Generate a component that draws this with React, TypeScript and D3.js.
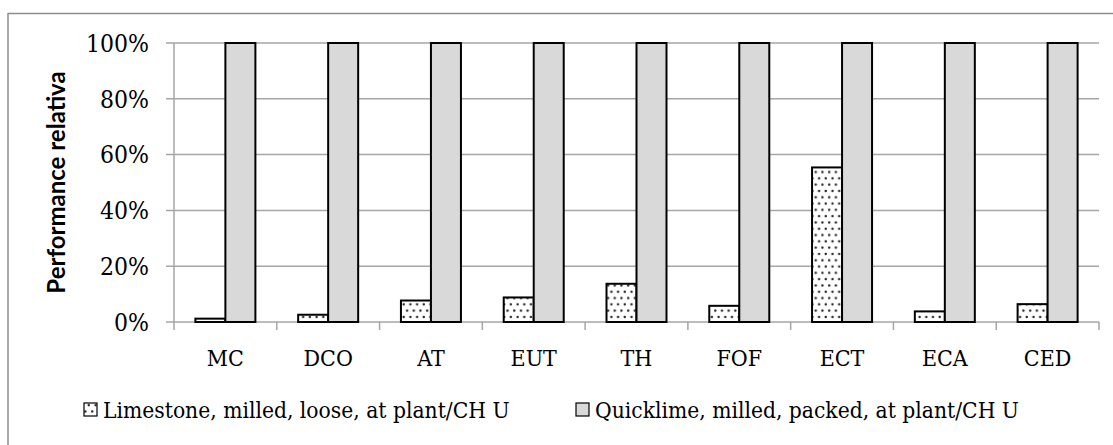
import React from "react";
import * as d3 from "d3";

const categories = ["MC", "DCO", "AT", "EUT", "TH", "FOF", "ECT", "ECA", "CED"];
const limestone = [1.2, 2.6, 7.7, 8.8, 13.7, 5.8, 55.4, 3.8, 6.4];
const quicklime = [100, 100, 100, 100, 100, 100, 100, 100, 100];
const seriesNames = ["Limestone, milled, loose, at plant/CH U", "Quicklime, milled, packed, at plant/CH U"];
const yTicks = [0, 20, 40, 60, 80, 100];
const yTitle = "Performance relativa";

const W = 1113, H = 445;
const left = 174, right = 1099, top = 43, bottom = 322;
const serif = "'DejaVu Serif Condensed', 'DejaVu Serif', serif";

export default function App() {
  const x = d3.scaleBand<string>().domain(categories).range([left, right]).paddingInner(0).paddingOuter(0);
  const y = d3.scaleLinear().domain([0, 100]).range([bottom, top]);
  const bw = 30;
  const band = x.bandwidth();
  return (
    <svg width={W} height={H} style={{ position: "absolute", left: 0, top: 0, background: "#fff" }}>
      <defs>
        <pattern id="dots" patternUnits="userSpaceOnUse" width={6.7} height={12.6}>
          <rect width={6.7} height={12.6} fill="#fff" />
          <circle cx={1.7} cy={2} r={1.2} fill="#222" />
          <circle cx={5.05} cy={8.3} r={1.2} fill="#222" />
        </pattern>
      </defs>
      <rect x={0} y={0} width={W} height={H} fill="#fff" />
      <line x1={8} x2={W} y1={13.5} y2={13.5} stroke="#8c8c8c" strokeWidth={1.5} />
      <line x1={8} x2={8} y1={13} y2={H} stroke="#8c8c8c" strokeWidth={1.5} />
      {yTicks.map((t) => (
        <line key={t} x1={left - 8} x2={right} y1={y(t)} y2={y(t)} stroke="#a6a6a6" strokeWidth={1.5} />
      ))}
      <line x1={left} x2={left} y1={top} y2={bottom} stroke="#a6a6a6" strokeWidth={1.5} />
      {[...categories.map((c) => x(c) as number), right].map((px, i) => (
        <line key={i} x1={px} x2={px} y1={bottom} y2={bottom + 8} stroke="#a6a6a6" strokeWidth={1.5} />
      ))}
      {categories.map((c, i) => {
        const cx = (x(c) as number) + band / 2;
        return (
          <g key={c}>
            <rect x={cx - bw} y={y(limestone[i])} width={bw} height={bottom - y(limestone[i])}
              fill="url(#dots)" stroke="#000" strokeWidth={2} />
            <rect x={cx} y={y(quicklime[i])} width={bw} height={bottom - y(quicklime[i])}
              fill="#d9d9d9" stroke="#000" strokeWidth={2} />
          </g>
        );
      })}
      {yTicks.map((t) => (
        <text key={t} x={149} y={y(t)} dy="0.36em" textAnchor="end" fontFamily={serif} fontSize={24.5} fill="#000">
          {t + "%"}
        </text>
      ))}
      {categories.map((c) => (
        <text key={c} x={(x(c) as number) + band / 2} y={366} textAnchor="middle" fontFamily={serif} fontSize={23} fill="#000">
          {c}
        </text>
      ))}
      <text transform={`translate(65,${(top + bottom) / 2}) rotate(-90)`} textAnchor="middle"
        fontFamily="Lato, 'Liberation Sans', sans-serif" fontWeight="bold" fontSize={24} fill="#000">
        {yTitle}
      </text>
      <rect x={84} y={403} width={13} height={13} fill="url(#dots)" stroke="#000" strokeWidth={1.2} />
      <text x={103} y={418} fontFamily={serif} fontSize={22.6} fill="#000">{seriesNames[0]}</text>
      <rect x={576} y={403} width={13} height={13} fill="#d9d9d9" stroke="#000" strokeWidth={1.2} />
      <text x={595} y={418} fontFamily={serif} fontSize={22.6} fill="#000">{seriesNames[1]}</text>
    </svg>
  );
}
